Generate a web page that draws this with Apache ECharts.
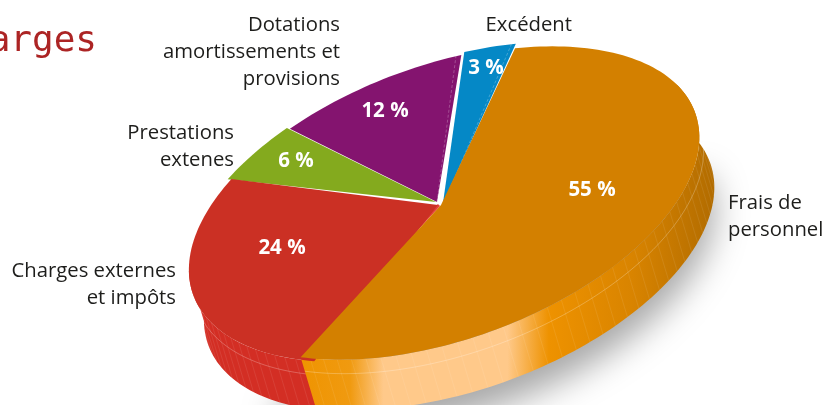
<!DOCTYPE html>
<html>
<head>
<meta charset="utf-8">
<style>
  html, body { margin: 0; padding: 0; background: #fff; overflow: hidden; }
  #chart { width: 836px; height: 405px; }
</style>
<script src="https://cdn.jsdelivr.net/npm/echarts@6/dist/echarts.min.js"></script>
</head>
<body>
<div id="chart"></div>
<script>
const titleText = 'Charges';
const categories = ['Frais de\npersonnel', 'Charges externes\net impôts', 'Prestations\nextenes', 'Dotations\namortissements et\nprovisions', 'Excédent'];
const values = [55, 24, 6, 12, 3];
const valueLabels = ['55 %', '24 %', '6 %', '12 %', '3 %'];
const colors = ['#d38000', '#cb3024', '#84aa1e', '#84146f', '#0588c6'];

// ellipse the pie is projected on
const center = [446, 203];
const radiusA = 265;
const radiusB = 136;
const tilt = (-20 * Math.PI) / 180;
const startAngle = -63.6;
const depth = [15, 50];

// per slice placement, same order as categories
const sliceApex = [[441, 205], [438, 205], [436, 202], [437, 202], [443, 203]];
const sliceScale = [1, 1.015, 1.03, 1.015, 1.03];
const slicePad = [[0, 1.2], [-3, 3.2], [3, 0.6], [0.8, -1.6], [-1, -0.3]];
const valuePos = [[592, 190], [282, 248], [296, 161], [385, 111], [486, 68]];
const namePos = [[728, 217, 'left'], [176, 285, 'right'], [234, 147, 'right'], [340, 52, 'right'], [572, 25, 'right']];

const total = values.reduce((sum, v) => sum + v, 0);

function sliceAngles(i) {
  const before = values.slice(0, i).reduce((sum, v) => sum + v, 0);
  return [startAngle + (before / total) * 360, startAngle + ((before + values[i]) / total) * 360];
}

function ellipsePoint(deg, scale, offset) {
  const t = (deg * Math.PI) / 180;
  const x = radiusA * scale * Math.cos(t);
  const y = radiusB * scale * Math.sin(t);
  return [
    center[0] + offset[0] + x * Math.cos(tilt) - y * Math.sin(tilt),
    center[1] + offset[1] + x * Math.sin(tilt) + y * Math.cos(tilt),
  ];
}

function arcPoints(from, to, scale, offset) {
  const pts = [];
  const steps = Math.max(2, Math.ceil(Math.abs(to - from) / 1.5));
  for (let i = 0; i <= steps; i++) {
    pts.push(ellipsePoint(from + ((to - from) * i) / steps, scale, offset));
  }
  return pts;
}

function shifted(p, d, k) {
  return [p[0] + d[0] * k, p[1] + d[1] * k];
}

function wallElements(from, to, scale, fill, stripeEvery, z) {
  const top = arcPoints(from, to, scale, [0, 0]);
  const bottom = top.map((p) => shifted(p, depth, 1)).reverse();
  const els = [{type: 'polygon', z2: z, shape: {points: top.concat(bottom)}, style: {fill: fill}}];
  const seam = top.map((p) => shifted(p, depth, 0.28));
  els.push({type: 'polyline', z2: z, shape: {points: seam}, style: {fill: 'none', stroke: 'rgba(255,255,255,0.35)', lineWidth: 0.7}});
  for (let a = from; a < to; a += stripeEvery) {
    const p = ellipsePoint(a, scale, [0, 0]);
    els.push({
      type: 'line',
      z2: z,
      shape: {x1: p[0], y1: p[1], x2: p[0] + depth[0], y2: p[1] + depth[1]},
      style: {stroke: 'rgba(255,255,255,0.12)', lineWidth: 0.7},
    });
  }
  return els;
}

function renderWalls(params) {
  const i = params.dataIndex;
  const [a0, a1] = sliceAngles(i);
  if (i === 0) {
    const fill = {
      type: 'linear', x: 0, y: 0, x2: 1, y2: 0, global: false,
      colorStops: [
        {offset: 0, color: '#ef9400'},
        {offset: 0.12, color: '#f09a10'},
        {offset: 0.2, color: '#ffc98a'},
        {offset: 0.5, color: '#ffc98a'},
        {offset: 0.6, color: '#ee9200'},
        {offset: 0.8, color: '#d98400'},
        {offset: 1, color: '#b26c00'},
      ],
    };
    return {type: 'group', children: wallElements(-14, a1 + slicePad[0][1], sliceScale[0], fill, 3.5, 2)};
  }
  if (i === 1) {
    return {type: 'group', children: wallElements(a0 - 1, 190, sliceScale[1], '#d32e24', 3, 1)};
  }
  return {type: 'group', children: []};
}

// the polygon itself sits off the canvas, only its blurred shadow lands on the page
function renderShadow(params) {
  if (params.dataIndex !== 0) return {type: 'group', children: []};
  const pts = arcPoints(-5, 150, 1, [15, 72]).concat([[center[0] + 20, center[1] + 40]]);
  return {
    type: 'polygon',
    shape: {points: pts.map((p) => [p[0] - 2000, p[1]])},
    style: {fill: '#000', shadowBlur: 34, shadowColor: '#a8a8a8', shadowOffsetX: 2000, shadowOffsetY: 0},
  };
}

function renderTop(params, api) {
  const i = params.dataIndex;
  const [a0, a1] = sliceAngles(i);
  const from = a0 + slicePad[i][0];
  const to = a1 + slicePad[i][1];
  const apex = sliceApex[i];
  const pts = [apex].concat(arcPoints(from, to, sliceScale[i], [0, 0]));
  const z = values.length - i;
  const children = [
    {type: 'polygon', z2: z, shape: {points: pts}, style: {fill: api.visual('color')}},
    {
      type: 'text',
      z2: 20,
      style: {
        text: valueLabels[i], x: valuePos[i][0], y: valuePos[i][1],
        align: 'center', verticalAlign: 'middle',
        font: 'bold 20.5px "Open Sans"', fill: '#fff',
      },
    },
    {
      type: 'text',
      z2: 20,
      style: {
        text: categories[i], x: namePos[i][0], y: namePos[i][1],
        align: namePos[i][2], verticalAlign: 'middle', lineHeight: 27,
        font: '20.3px "Open Sans"', fill: '#1d1d1b',
      },
    },
  ];
  // dashed fold on purple and blue
  if (i === 3 || i === 4) {
    const p = ellipsePoint(to - (i === 3 ? 1.2 : 1), sliceScale[i], [0, 0]);
    children.push({type: 'line', z2: z + 0.5, shape: {x1: apex[0] - 3 + i, y1: apex[1], x2: p[0], y2: p[1]}, style: {stroke: 'rgba(255,255,255,0.35)', lineWidth: 0.7, lineDash: [3, 2]}});
  }
  return {type: 'group', children: children};
}

// rim highlight between the red and orange slices
function renderRim(params) {
  if (params.dataIndex !== 1) return {type: 'group', children: []};
  const p = ellipsePoint(sliceAngles(0)[1] + slicePad[0][1], sliceScale[0], [0, 0]);
  const apex = sliceApex[0];
  return {type: 'line', shape: {x1: apex[0] - 2, y1: apex[1], x2: p[0] - 2, y2: p[1]}, style: {stroke: '#e4413a', lineWidth: 3}};
}

const seriesData = values.map((v, i) => ({value: v, name: categories[i], itemStyle: {color: colors[i]}}));

const chart = echarts.init(document.getElementById('chart'), null, {renderer: 'canvas'});
chart.setOption({
  animation: false,
  tooltip: {show: false},
  graphic: [{
    type: 'text',
    style: {
      text: titleText, x: 97, y: 42, align: 'right', verticalAlign: 'middle',
      font: '36px "DejaVu Sans Mono"', fill: '#ac2424',
    },
  }],
  series: [
    {type: 'custom', coordinateSystem: 'none', z: 1, silent: true, data: seriesData, renderItem: renderShadow},
    {type: 'custom', coordinateSystem: 'none', z: 2, silent: true, data: seriesData, renderItem: renderWalls},
    {type: 'custom', coordinateSystem: 'none', z: 3, silent: true, data: seriesData, renderItem: renderTop},
    {type: 'custom', coordinateSystem: 'none', z: 3, silent: true, data: seriesData, renderItem: renderRim},
  ],
});
</script>
</body>
</html>
